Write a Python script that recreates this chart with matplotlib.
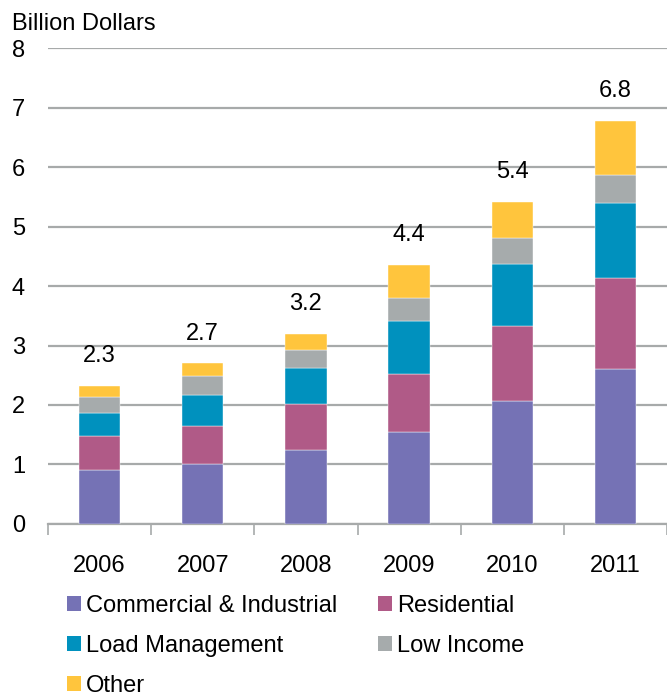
import numpy as np
import matplotlib
matplotlib.use("Agg")
import matplotlib.pyplot as plt
from matplotlib.patches import Patch

plt.rcParams['font.family'] = ['Liberation Sans', 'DejaVu Sans']

years = ["2006", "2007", "2008", "2009", "2010", "2011"]
commercial = [0.91, 1.01, 1.25, 1.54, 2.07, 2.61]
residential = [0.57, 0.63, 0.76, 0.98, 1.26, 1.53]
load_mgmt = [0.39, 0.53, 0.61, 0.89, 1.04, 1.26]
low_income = [0.27, 0.31, 0.31, 0.38, 0.43, 0.47]
other = [0.18, 0.22, 0.26, 0.57, 0.62, 0.90]
totals = ["2.3", "2.7", "3.2", "4.4", "5.4", "6.8"]

series = [
    ("Commercial & Industrial", commercial, "#7572B5"),
    ("Residential", residential, "#B05A87"),
    ("Load Management", load_mgmt, "#0091BE"),
    ("Low Income", low_income, "#A6ABAC"),
    ("Other", other, "#FFC53D"),
]

fs = 17
grid_col = "#A7AAAA"

fig = plt.figure(figsize=(6.67, 6.98), dpi=100)
ax = fig.add_axes([0.072, 0.2493, 0.928, 0.6819])

x = np.arange(len(years))
bottom = np.zeros(len(years))
handles = {}
for name, vals, col in series:
    ax.bar(x, vals, 0.4, bottom=bottom, color=col, edgecolor="white", linewidth=0.3, zorder=3)
    bottom += np.array(vals)
    handles[name] = Patch(facecolor=col, edgecolor="none")

# total labels above each stack
for i, t in enumerate(totals):
    ax.text(x[i], bottom[i] + 0.5, t, ha="center", va="center", fontsize=fs)

ax.set_xlim(-0.5, len(years) - 0.5)
ax.set_ylim(0, 8)
ax.set_yticks(range(0, 9))
ax.yaxis.grid(True, color=grid_col, linewidth=1.6, zorder=0)
ax.set_axisbelow(True)
ax.tick_params(axis="y", length=0, pad=26, labelsize=fs)
for lab in ax.get_yticklabels():
    lab.set_horizontalalignment("left")

ax.set_xticks(x)
ax.set_xticklabels(years)
ax.set_xticks(np.arange(-0.5, len(years)), minor=True)
ax.tick_params(axis="x", which="major", length=0, pad=22.5, labelsize=fs)
ax.tick_params(axis="x", which="minor", length=8, width=1.2, color=grid_col, direction="out")

for s in ["left", "right", "top"]:
    ax.spines[s].set_visible(False)
ax.spines["bottom"].set_color(grid_col)
ax.spines["bottom"].set_linewidth(1.6)

fig.text(0.018, 0.965, "Billion Dollars", fontsize=fs, va="center", ha="left")

order = ["Commercial & Industrial", "Load Management", "Other", "Residential", "Low Income"]
fig.legend([handles[n] for n in order], order, ncol=2, loc="upper left",
           bbox_to_anchor=(0.1005, 0.148), frameon=False, fontsize=fs,
           handlelength=0.6, handleheight=0.6, handletextpad=0.2,
           labelspacing=0.76, columnspacing=1.73, borderaxespad=0, borderpad=0)

fig.savefig("out.png", dpi=100)
